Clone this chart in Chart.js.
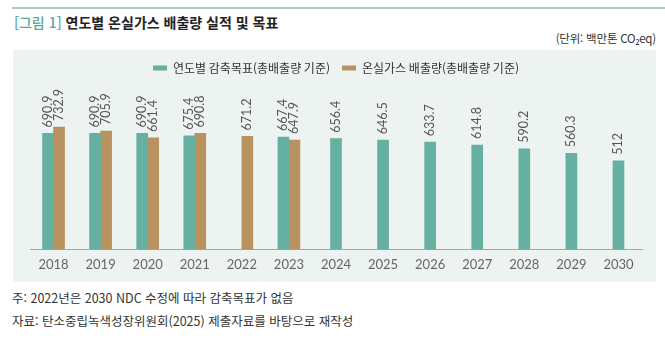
<!DOCTYPE html>
<html lang="ko">
<head>
<meta charset="utf-8">
<script src="https://cdn.jsdelivr.net/npm/chart.js@4.4.1/dist/chart.umd.min.js"></script>
<style>
  body { margin: 0; width: 665px; height: 342px; background: #fff; position: relative; overflow: hidden;
         font-family: "Noto Sans CJK KR", "Noto Sans", sans-serif; color: #333; }
  .topline { position: absolute; left: 12px; top: 7px; width: 653px; height: 2px; background: #a9cec5; }
  .title { position: absolute; left: 14px; top: 12px; font-size: 14px; font-weight: bold; color: #222; }
  .title span { color: #5aa99a; font-weight: 500; }
  .unit { position: absolute; right: 9px; top: 30px; font-size: 11.5px; color: #333; letter-spacing: -0.2px; }
  .panel { position: absolute; left: 13px; top: 50px; width: 643px; height: 232px; background: #edf3f1; }
  .note { position: absolute; left: 12px; font-size: 12.5px; color: #333; }
</style>
</head>
<body>
<div class="topline"></div>
<div class="title"><span>[그림 1]</span> 연도별 온실가스 배출량 실적 및 목표</div>
<div class="unit">(단위: 백만톤 CO₂eq)</div>
<div class="panel"><canvas id="chart" width="643" height="232"></canvas></div>
<div class="note" style="top:288px">주: 2022년은 2030 NDC 수정에 따라 감축목표가 없음</div>
<div class="note" style="top:311px">자료: 탄소중립녹색성장위원회(2025) 제출자료를 바탕으로 재작성</div>

<script>
// 연도
const years = ['2018', '2019', '2020', '2021', '2022', '2023', '2024', '2025', '2026', '2027', '2028', '2029', '2030'];
// 연도별 감축목표 (2022년 없음)
const targets = [690.9, 690.9, 690.9, 675.4, null, 667.4, 656.4, 646.5, 633.7, 614.8, 590.2, 560.3, 512];
// 온실가스 배출량 실적
const emissions = [732.9, 705.9, 661.4, 690.8, 671.2, 647.9, null, null, null, null, null, null, null];

const seriesNames = ['연도별 감축목표(총배출량 기준)', '온실가스 배출량(총배출량 기준)'];

// 원본 그림은 막대가 0이 아닌 축선에서 시작함
const axisFloor = -68;
const axisTop = 1014;

// 막대 위에 세로 값 표시
const valueLabels = {
  id: 'valueLabels',
  afterDatasetsDraw(chart) {
    const ctx = chart.ctx;
    ctx.save();
    ctx.font = '12.5px Lato, "Noto Sans", sans-serif';
    ctx.fillStyle = '#555';
    ctx.textAlign = 'left';
    ctx.textBaseline = 'middle';
    chart.data.datasets.forEach((ds, di) => {
      const meta = chart.getDatasetMeta(di);
      meta.data.forEach((bar, i) => {
        const v = ds.data[i];
        if (v === null) return;
        ctx.save();
        ctx.translate(bar.x, bar.y - 6);
        ctx.rotate(-Math.PI / 2);
        ctx.fillText(String(v), 0, 0);
        ctx.restore();
      });
    });
    ctx.restore();
  }
};

new Chart(document.getElementById('chart'), {
  type: 'bar',
  data: {
    labels: years,
    datasets: [{
      label: seriesNames[0],
      data: targets,
      backgroundColor: '#66b0a2',
      barThickness: 11,
      base: axisFloor,
      skipNull: true
    }, {
      label: seriesNames[1],
      data: emissions,
      backgroundColor: '#b8935f',
      barThickness: 11,
      base: axisFloor
    }]
  },
  options: {
    responsive: false,
    animation: false,
    layout: { padding: { left: 17, right: 14, top: 0, bottom: 9 } },
    plugins: {
      legend: {
        labels: {
          boxWidth: 14,
          boxHeight: 5,
          padding: 12,
          color: '#333',
          font: { family: '"Noto Sans CJK KR", sans-serif', size: 12 }
        }
      },
      tooltip: { enabled: false }
    },
    scales: {
      x: {
        grid: { display: false },
        border: { color: '#a6a6a6', width: 1 },
        ticks: { color: '#666', padding: 0, font: { family: 'Lato, sans-serif', size: 13 } }
      },
      y: { display: false, min: axisFloor, max: axisTop }
    }
  },
  plugins: [valueLabels]
});
</script>
</body>
</html>
